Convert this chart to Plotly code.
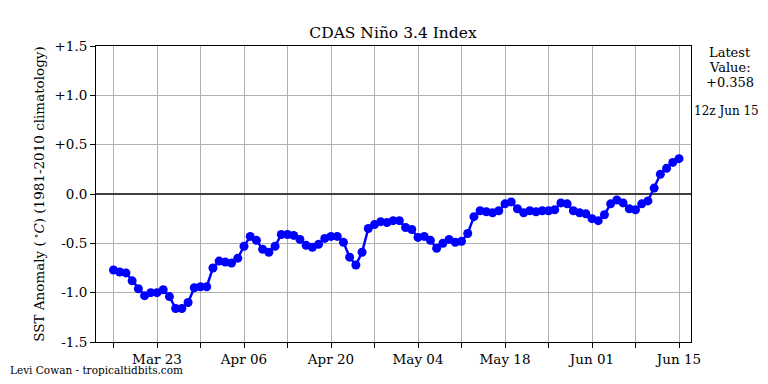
import plotly.graph_objects as go
import pandas as pd

start_date = "2018-03-16"
anomaly = [
    -0.77, -0.79, -0.80, -0.88, -0.96, -1.03, -1.00, -1.00, -0.97, -1.04,
    -1.16, -1.16, -1.10, -0.95, -0.94, -0.94, -0.75, -0.68, -0.69, -0.70,
    -0.65, -0.53, -0.43, -0.47, -0.56, -0.59, -0.53, -0.41, -0.41, -0.42,
    -0.46, -0.52, -0.54, -0.51, -0.45, -0.43, -0.43, -0.49, -0.64, -0.72,
    -0.59, -0.35, -0.31, -0.28, -0.29, -0.27, -0.27, -0.34, -0.36, -0.44,
    -0.43, -0.47, -0.55, -0.50, -0.46, -0.49, -0.48, -0.40, -0.23, -0.17,
    -0.18, -0.19, -0.17, -0.10, -0.08, -0.15, -0.19, -0.17, -0.18, -0.17,
    -0.17, -0.16, -0.09, -0.10, -0.17, -0.19, -0.20, -0.25, -0.27, -0.21,
    -0.10, -0.06, -0.09, -0.15, -0.16, -0.10, -0.07, 0.06, 0.20, 0.26,
    0.32, 0.358,
]
dates = pd.date_range(start_date, periods=len(anomaly), freq="D")

x_tick_dates = ["2018-03-23", "2018-04-06", "2018-04-20", "2018-05-04",
                "2018-05-18", "2018-06-01", "2018-06-15"]
x_tick_labels = ["Mar 23", "Apr 06", "Apr 20", "May 04", "May 18", "Jun 01", "Jun 15"]
y_tick_vals = [-1.5, -1.0, -0.5, 0.0, 0.5, 1.0, 1.5]
y_tick_labels = ["-1.5", "-1.0", "-0.5", "0.0", "+0.5", "+1.0", "+1.5"]

latest_lines = ["Latest", "Value:", "+0.358"]
latest_time = "12z Jun 15"

FONT = "DejaVu Serif"
OFF = 8  # page body margin offset
W, H = 752, 376
L, T = 96 - OFF, 46 - OFF
PW, PH = 595, 296
R = W - L - PW
B = H - T - PH


def px_x(px):
    return (px - OFF - L) / PW


def px_y(py):
    return 1 - (py - OFF - T) / PH


fig = go.Figure()
fig.add_trace(go.Scatter(
    x=dates, y=anomaly, mode="lines+markers",
    line=dict(color="#0000ff", width=2.5),
    marker=dict(color="#0000ff", size=9),
    showlegend=False,
))

fig.update_layout(
    width=W, height=H,
    margin=dict(l=L, r=R, t=T, b=B, pad=0),
    paper_bgcolor="white", plot_bgcolor="white",
    font=dict(family=FONT, size=13, color="black"),
    title=dict(text="CDAS Niño 3.4 Index", x=px_x(393), xanchor="center",
               xref="paper", y=1 - (33 - OFF) / H, yanchor="middle",
               font=dict(size=15.5)),
    xaxis=dict(
        range=["2018-03-13 04:25", "2018-06-16 22:20"],
        tickvals=x_tick_dates, ticktext=x_tick_labels,
        showgrid=True, gridcolor="#b0b0b0", gridwidth=1,
        ticks="outside", ticklen=5, tickcolor="black",
        minor=dict(tick0="2018-03-16", dtick=7 * 86400000, ticks="outside",
                   ticklen=5, tickcolor="black", showgrid=True,
                   gridcolor="#b0b0b0", gridwidth=1),
        showline=True, linecolor="black", linewidth=1, mirror=True,
        zeroline=False, tickfont=dict(size=13.5), automargin=False,
    ),
    yaxis=dict(
        range=[-1.5, 1.5],
        tickvals=y_tick_vals, ticktext=y_tick_labels,
        showgrid=True, gridcolor="#b0b0b0", gridwidth=1,
        ticks="outside", ticklen=5, tickcolor="black",
        showline=True, linecolor="black", linewidth=1, mirror=True,
        zeroline=True, zerolinecolor="#404040", zerolinewidth=1.5,
        title=dict(text="SST Anomaly (<sup> ∘</sup><i>C</i>) (1981-2010 climatology)",
                   font=dict(size=13.5), standoff=6),
        tickfont=dict(size=13.5), automargin=False,
    ),
)

for i, line in enumerate(latest_lines):
    fig.add_annotation(
        text=line, xref="paper", yref="paper",
        x=px_x(730), y=px_y(52 + 15 * i), xanchor="center", yanchor="middle",
        showarrow=False, font=dict(size=13),
    )
fig.add_annotation(
    text=latest_time, xref="paper", yref="paper",
    x=px_x(726), y=px_y(111), xanchor="center", yanchor="middle",
    showarrow=False, font=dict(size=12),
)
fig.add_annotation(
    text="Levi Cowan - tropicaltidbits.com", xref="paper", yref="paper",
    x=px_x(8), y=px_y(370), xanchor="left", yanchor="middle",
    showarrow=False, font=dict(size=10.5),
)

fig.write_html("out.html")
